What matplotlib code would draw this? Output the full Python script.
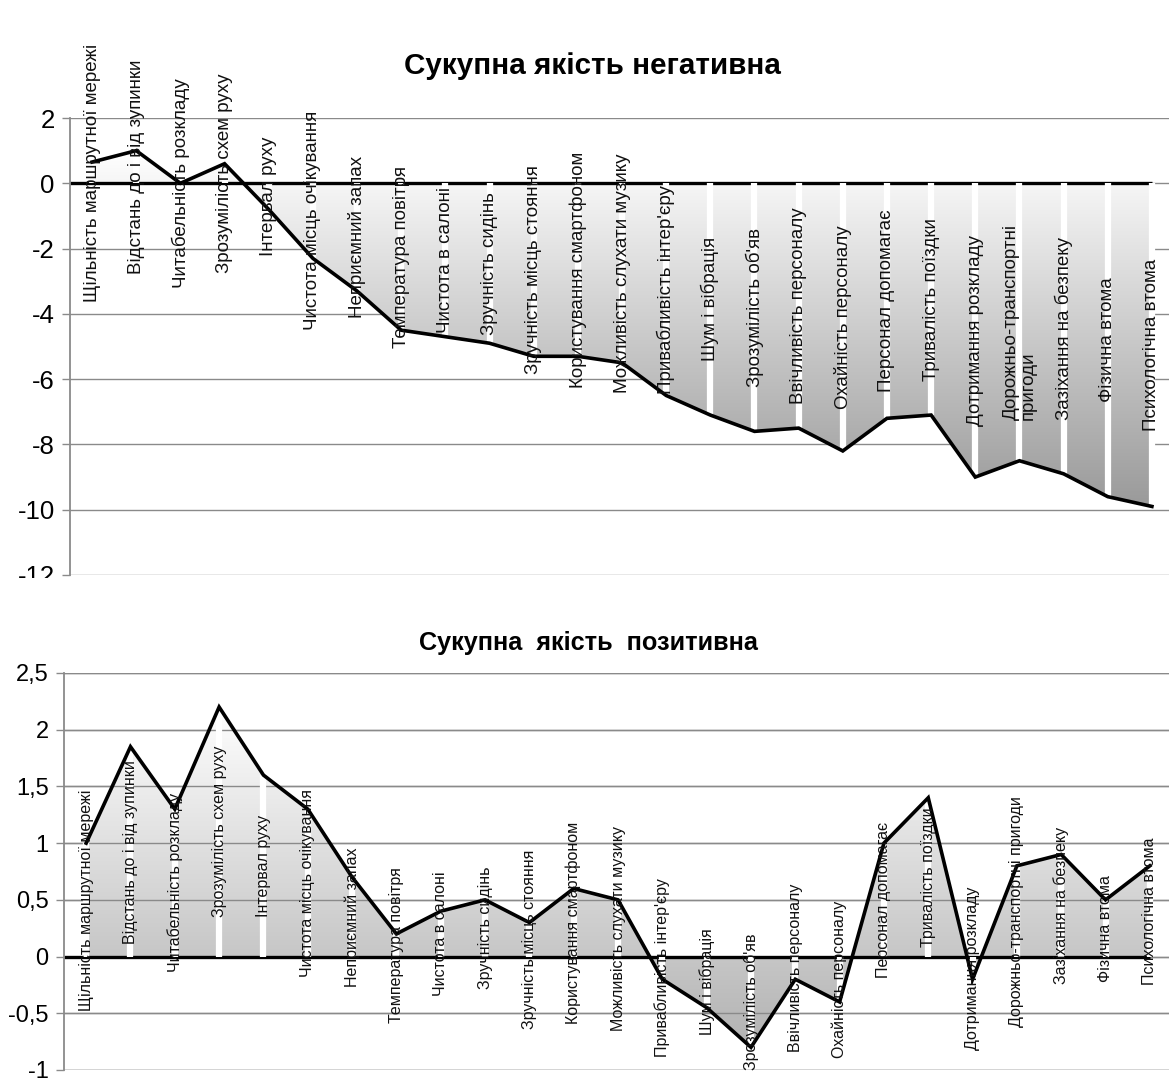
import numpy as np
import matplotlib
matplotlib.use('Agg')
import matplotlib.pyplot as plt
from matplotlib.colors import LinearSegmentedColormap
from matplotlib.patches import Polygon, Rectangle
from matplotlib.ticker import FuncFormatter, MultipleLocator

plt.rcParams['font.family'] = ['Liberation Sans', 'DejaVu Sans']
plt.rcParams['axes.unicode_minus'] = False

labels = [
    'Щільність маршрутної мережі', 'Відстань до і від зупинки',
    'Читабельність розкладу', 'Зрозумілість схем руху', 'Інтервал руху',
    'Чистота місць очікування', 'Неприємний запах', 'Температура повітря',
    'Чистота в салоні', 'Зручність сидінь', 'Зручність місць стояння',
    'Користування смартфоном', 'Можливість слухати музику',
    "Привабливість інтер'єру", 'Шум і вібрація', "Зрозумілість об'яв",
    'Ввічливість персоналу', 'Охайність персоналу', 'Персонал допомагає',
    'Тривалість поїздки', 'Дотримання розкладу',
    'Дорожньо-транспортні пригоди', 'Зазіхання на безпеку', 'Фізична втома',
    'Психологічна втома',
]
labels_neg = [s.replace('транспортні ', 'транспортні\n') for s in labels]

neg_values = [0.65, 1.0, 0.0, 0.6, -0.8, -2.3, -3.3, -4.5, -4.7, -4.9, -5.3,
              -5.3, -5.5, -6.5, -7.1, -7.6, -7.5, -8.2, -7.2, -7.1, -9.0,
              -8.5, -8.9, -9.6, -9.9]
pos_values = [1.0, 1.85, 1.3, 2.2, 1.6, 1.3, 0.7, 0.2, 0.4, 0.5, 0.3, 0.6,
              0.5, -0.2, -0.45, -0.8, -0.2, -0.4, 1.0, 1.4, -0.2, 0.8, 0.9,
              0.5, 0.8]

W, H = 1169, 1079
fig = plt.figure(figsize=(W / 100, H / 100), dpi=100)


def px_axes(left, top, right, bottom):
    return fig.add_axes([left / W, 1 - bottom / H, (right - left) / W,
                         (bottom - top) / H])


def panel(ax, values, names, ylim, step, fmt, dark, grid_top, lab_fs, tick_fs):
    n = len(values)
    x = np.arange(n)
    v = np.array(values)
    ax.set_xlim(-0.5, n - 0.5)
    ax.set_ylim(*ylim)
    ax.yaxis.set_major_locator(MultipleLocator(step))
    ax.yaxis.set_major_formatter(FuncFormatter(fmt))
    ax.set_xticks([])
    for s in ['top', 'right', 'bottom']:
        ax.spines[s].set_visible(False)
    ax.spines['left'].set_color('#8a8a8a')
    ax.spines['left'].set_linewidth(1.3)
    ax.tick_params(axis='y', direction='out', length=6, width=1,
                   color='#8a8a8a', labelsize=tick_fs, pad=5)
    ax.yaxis.grid(True, color='#8a8a8a', linewidth=1.0)
    ax.set_axisbelow(True)
    if grid_top:
        for t in ax.get_yticks():
            if ylim[0] <= t <= ylim[1]:
                ax.axhline(t, color='#8a8a8a', lw=1.0, zorder=1.5)

    verts = [(x[0], 0)] + list(zip(x, v)) + [(x[-1], 0)]
    poly = Polygon(verts, closed=True, facecolor='none', edgecolor='none',
                   transform=ax.transData)
    ax.add_patch(poly)
    cmap = LinearSegmentedColormap.from_list('g', ['#ffffff', dark])
    grad = np.linspace(0, 1, 256).reshape(-1, 1)
    im = ax.imshow(grad, cmap=cmap, extent=[x[0], x[-1], v.min(), v.max()],
                   origin='upper', aspect='auto', zorder=1,
                   interpolation='bilinear')
    im.set_clip_path(poly)
    ax.set_xlim(-0.5, n - 0.5)
    ax.set_ylim(*ylim)

    ax.plot([-0.5, x[-1]], [0, 0], color='black', lw=2.4, zorder=2,
            solid_capstyle='butt')
    ax.vlines(x, 0, v, color='white', lw=4.5, zorder=3)
    ax.plot(x, v, color='black', lw=2.6, zorder=4, solid_joinstyle='miter')
    for i in range(n):
        ax.text(x[i], v[i] / 2, names[i], rotation=90, ha='center',
                va='center', multialignment='left', fontsize=lab_fs,
                zorder=5, linespacing=1.0, color='#111111')


ax1 = px_axes(70, 118, 1174, 575)
panel(ax1, neg_values, labels_neg, (-12, 2), 2, lambda t, p: f'{t:.0f}',
      '#9a9a9a', False, 13.5, 18.5)
ax2 = px_axes(64, 673, 1172, 1070)
panel(ax2, pos_values, labels, (-1, 2.5), 0.5,
      lambda t, p: f'{t:g}'.replace('.', ','), '#b2b2b2', True, 11.5, 17)

fig.text(592 / W, 1 - 66 / H, 'Сукупна якість негативна', ha='center',
         va='center', fontsize=21.3, fontweight='bold')
fig.text(588 / W, 1 - 643 / H, 'Сукупна  якість  позитивна', ha='center',
         va='center', fontsize=18.2, fontweight='bold')

# the top picture is cut off just below its lowest gridline
fig.patches.append(Rectangle((0, 1 - 612 / H), 1, (612 - 578) / H,
                             transform=fig.transFigure, facecolor='white',
                             edgecolor='none', zorder=10))

fig.savefig('out.png', dpi=100)
